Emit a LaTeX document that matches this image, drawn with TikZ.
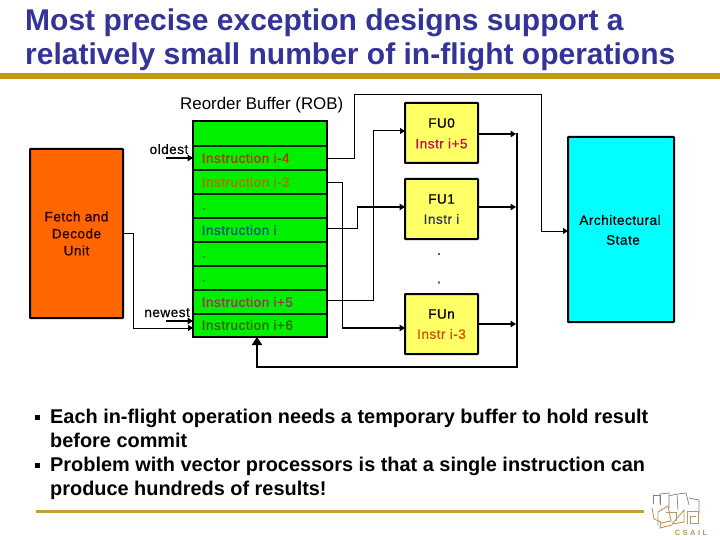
\documentclass[tikz,border=0pt]{standalone}
\usepackage{fontspec}
\setmainfont{Liberation Sans}
\newfontfamily\labelfont[LetterSpace=3.5,FakeBold=0.5]{Liberation Sans}
\usetikzlibrary{arrows.meta,calc}
\definecolor{navy}{HTML}{333399}
\definecolor{gold}{HTML}{C49A14}
\definecolor{gold2}{HTML}{C4A030}
\definecolor{robgreen}{HTML}{00F000}
\definecolor{fuyellow}{HTML}{FFFF66}
\definecolor{fetchorange}{HTML}{FF6600}
\definecolor{archcyan}{HTML}{00FFFF}
\definecolor{cfour}{HTML}{A83A00}
\definecolor{cthree}{HTML}{B07000}
\definecolor{ci}{HTML}{005A70}
\definecolor{cfive}{HTML}{A03060}
\definecolor{csix}{HTML}{3A6000}
\definecolor{ifive}{HTML}{BB1155}
\definecolor{ii}{HTML}{333355}
\definecolor{ithree}{HTML}{D05000}
\definecolor{logotan}{HTML}{C09560}
\definecolor{logogrey}{HTML}{808080}
\tikzset{
  x=1pt,y=-1pt,
  titletext/.style={anchor=base west,inner sep=0pt,text=navy,font=\fontsize{30}{30}\selectfont\bfseries},
  bodytext/.style={anchor=base west,inner sep=0pt,font=\fontsize{19.9}{20}\selectfont\bfseries},
  smalltext/.style={inner sep=0pt,font=\fontsize{13.6}{14}\labelfont},
  cell/.style={draw=black!85!green,line width=1.2pt,fill=robgreen,minimum width=134pt,minimum height=24pt,inner sep=0pt,outer sep=0pt,anchor=north west},
  celltext/.style={anchor=west,inner sep=0pt,font=\fontsize{13.6}{14}\labelfont},
  block/.style={draw=black,line width=2pt,rounded corners=0.6pt,inner sep=0pt,outer sep=0pt,anchor=north west,align=center},
  fu/.style={block,fill=fuyellow,minimum width=73pt,minimum height=60pt},
  thin/.style={draw=black,line width=0.8pt},
  conn/.style={thin,-{Triangle[length=5pt,width=6pt]}},
  med/.style={draw=black,line width=1.4pt,-{Triangle[length=5.5pt,width=6.5pt]}},
  bus/.style={draw=black,line width=2.4pt},
  logoa/.style={draw=logogrey,line width=0.7pt},
  logob/.style={draw=logotan,line width=0.9pt},
}
\begin{document}
\begin{tikzpicture}
\useasboundingbox[fill=white] (0,0) rectangle (720,540);
% rules
\coordinate (ruleL) at (0,76);
\coordinate (ruleR) at (720,76);
\draw[gold,line width=6pt] (ruleL) -- (ruleR);
\coordinate (footL) at (36,511);
\coordinate (footR) at (644,511);
\draw[gold2,line width=3pt] (footL) -- (footR);
% title
\node[titletext] (t1) at (25,31) {Most precise exception designs support a};
\node[titletext] (t2) at (25,65) {relatively small number of in-flight operations};
% ROB
\node[anchor=base west,inner sep=0pt,font=\fontsize{16.9}{17}\selectfont] (roblabel) at (180,110) {Reorder Buffer (ROB)};
\node[cell,minimum height=25pt] (c0) at (193,121) {};
\node[cell] (c1) at (193,146) {};
\node[cell] (c2) at (193,170) {};
\node[cell] (c3) at (193,194) {};
\node[cell] (c4) at (193,218) {};
\node[cell] (c5) at (193,242) {};
\node[cell] (c6) at (193,266) {};
\node[cell] (c7) at (193,290) {};
\node[cell,minimum height=23pt] (c8) at (193,314) {};
\draw[black,line width=2pt] (c0.north west) rectangle (c8.south east);
\node[celltext,text=cfour] (l1) at (201.5,158) {Instruction i-4};
\node[celltext,text=cthree] (l2) at (201.5,182) {Instruction i-3};
\node[celltext,text=csix] (l3) at (201.5,209) {.};
\node[celltext,text=ci] (l4) at (201.5,230) {Instruction i};
\node[celltext,text=csix] (l5) at (201.5,257) {.};
\node[celltext,text=csix] (l6) at (201.5,281) {.};
\node[celltext,text=cfive] (l7) at (201.5,302) {Instruction i+5};
\node[celltext,text=csix] (l8) at (201.5,325) {Instruction i+6};
% side labels
\node[smalltext,anchor=base east] (oldest) at (188.5,154) {oldest};
\node[smalltext,anchor=base east] (newest) at (190,317) {newest};
\coordinate (oldS) at (166,158);
\coordinate (newS) at (166,321);
\draw[med] (oldS) -- (oldS -| c1.west);
\draw[med] (newS) -- (newS -| c8.west);
% fetch
\node[block,fill=fetchorange,minimum width=93pt,minimum height=169pt,font=\fontsize{13.6}{17}\labelfont] (fetch) at (30,149) {\textcolor{black!85!red}{Fetch and}\\\textcolor{black!85!red}{Decode}\\\textcolor{black!85!red}{Unit}};
% FUs
\node[fu] (fu0) at (405,103) {};
\node[fu] (fu1) at (405,179) {};
\node[fu] (fun) at (405,294) {};
\node[smalltext] (fu0a) at (441.5,123) {FU0};
\node[smalltext,text=ifive] (fu0b) at (441.5,143.5) {Instr i+5};
\node[smalltext] (fu1a) at (441.5,199) {FU1};
\node[smalltext,text=ii] (fu1b) at (441.5,219) {Instr i};
\node[smalltext] (funa) at (441.5,314) {FUn};
\node[smalltext,text=ithree] (funb) at (441.5,334) {Instr i-3};
\node[smalltext] (d1) at (439,254) {.};
\node[smalltext] (d2) at (439,282.5) {.};
% Arch
\node[block,fill=archcyan,minimum width=106pt,minimum height=185pt] (arch) at (568,137) {};
\node[smalltext] (ar1) at (620,220) {Architectural};
\node[smalltext] (ar2) at (623,240) {State};
% connectors
\draw[conn] (fetch.east |- 0,233) -- (133.5,233) |- (c8.west |- 0,328);
\draw[conn] (c1.east) -- (354,158) |- (541.5,94) |- (arch.west |- 0,231);
\draw[thin] (c2.east) -- (342,182) -- (342,328);
\coordinate (fundrv) at (342,328);
\draw[med] (fundrv) -- (fun.west |- fundrv);
\draw[thin] (c4.east |- 0,228) -- (357,228) -- (357,207);
\coordinate (fu1drv) at (357,207);
\draw[med] (fu1drv) -- (fu1.west |- fu1drv);
\draw[thin] (c7.east |- 0,300) -- (373,300) -- (373,131);
\coordinate (fu0drv) at (373,131);
\draw[conn,line width=1pt] (fu0drv) -- (fu0.west |- fu0drv);
% bus
\coordinate (busT) at (517,133);
\coordinate (busB) at (517,367);
\coordinate (busL) at (257,367);
\draw[bus] (busT) -- (busB) -- (busL) -- (c8.south -| busL) ;
\draw[black,-{Triangle[length=8pt,width=10pt]},line width=2.4pt] (busL |- 0,345) -- (c8.south -| busL);
\draw[med] (fu0.east |- 0,134) -- (516,134);
\draw[med] (fu1.east |- 0,207) -- (516,207);
\draw[med] (fun.east |- 0,324) -- (516,324);
% body text
\fill (34.5,414.5) rectangle +(5,5);
\fill (34.5,462.5) rectangle +(5,5);
\node[bodytext] (b1) at (50,423) {Each in-flight operation needs a temporary buffer to hold result};
\node[bodytext] (b2) at (50,447) {before commit};
\node[bodytext] (b3) at (50,471) {Problem with vector processors is that a single instruction can};
\node[bodytext] (b4) at (50,495) {produce hundreds of results!};
% logo
\draw[logoa] (653,504) -- (653,495) -- (660,495) -- (660,505);
\draw[logoa] (660,503) -- (660,494) -- (669,493) -- (669,508);
\draw[logoa] (669,496) -- (677,494) -- (678,510);
\draw[logoa] (678,494) -- (686,493) -- (689,505);
\draw[logoa] (689,498) -- (699,500) -- (699,513);
\draw[logob] (652,508) -- (654,519) -- (661,522) -- (660,528) -- (672,525);
\draw[logob] (658,526) -- (658,512) -- (668,506) -- (671,521) -- (661,523);
\draw[logob] (672,524) -- (684,510) -- (684,522) -- (672,524);
\draw[logob] (687,524) -- (687,511) -- (698,511) -- (698,523) -- (690,523) -- (690,516) -- (696,516);
\draw[logob] (666,512) -- (676,512) -- (676,521);
\node[inner sep=0pt,text=logotan,font=\fontsize{7.5}{8}\selectfont\bfseries] (csail) at (691,533) {C\,\,S\,\,A\,\,I\,\,L};
\end{tikzpicture}
\end{document}
